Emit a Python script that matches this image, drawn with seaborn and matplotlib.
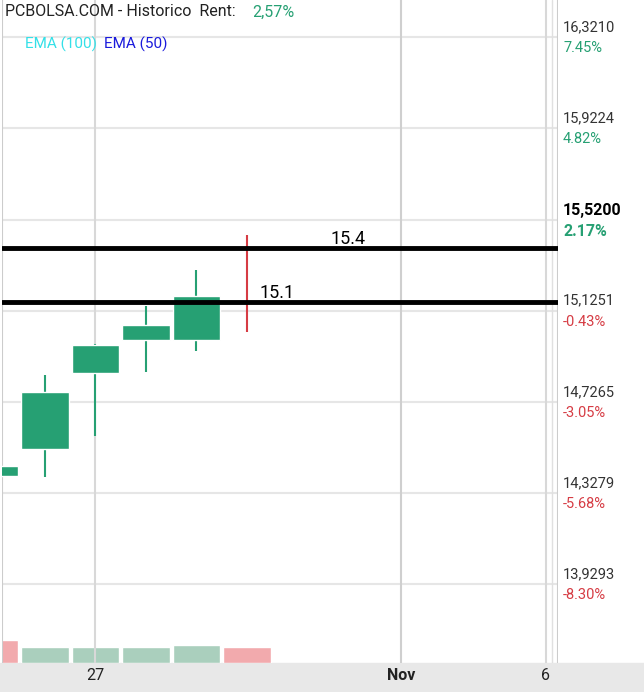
import matplotlib
matplotlib.use("Agg")
import matplotlib.pyplot as plt
import seaborn as sns
import numpy as np

sns.set_theme(style="white")
plt.rcParams['font.family'] = ['Roboto', 'DejaVu Sans']

idx = [0, 1, 2, 3, 4, 5]
opens = [14.402, 14.520, 14.853, 14.997, 14.997, 15.10]
closes = [14.446, 14.770, 14.975, 15.062, 15.189, 15.10]
highs = [14.446, 14.844, 14.979, 15.145, 15.303, 15.456]
lows = [14.402, 14.398, 14.577, 14.857, 14.949, 15.032]
volumes = [23, 16, 16, 16, 18, 16]
vol_up = [False, True, True, True, True, False]
levels = [15.399, 15.163]
level_labels = ["15.4", "15.1"]
grid_prices = [16.3210, 15.9224, 15.5200, 15.1251, 14.7265, 14.3279, 13.9293]
grid_pcts = ["7.45%", "4.82%", "2.17%", "-0.43%", "-3.05%", "-5.68%", "-8.30%"]
xtick_pos = [2, 8.05, 10.92]
xtick_labels = ["27", "Nov", "6"]

GREEN = "#26a073"
RED = "#d63c44"

fig = plt.figure(figsize=(6.44, 6.92), dpi=100)
fig.patch.set_facecolor("white")
# bottom band
fig.add_artist(plt.Rectangle((0, 0), 1, 29/692, transform=fig.transFigure, color="#e8e8e8", zorder=0))
ax = fig.add_axes([2/644, 29/692, 556/644, 663/692])
ax.set_xlim(0.149, 11.16)
ax.set_ylim(13.585, 16.483)
ax.set_facecolor("white")
for s in ax.spines.values():
    s.set_visible(False)
ax.axvline(0.149, color="#cccccc", lw=1.5)
ax.axvline(11.16, color="#cccccc", lw=1.5)
ax.axvline(11.04, color="#e0e0e0", lw=1)
for p in grid_prices:
    ax.axhline(p, color="#e6e6e6", lw=1.5, zorder=0)
for xp in xtick_pos:
    ax.axvline(xp, color="#d8d8d8" if xp != 8.05 else "#cfcfcf", lw=1.5, zorder=0)
ax.set_xticks([]); ax.set_yticks([])

# volume
axv = ax.twinx()
axv.set_ylim(0, 663)
axv.set_yticks([])
for s in axv.spines.values():
    s.set_visible(False)
vcols = ["#aacfbd" if u else "#f2aaad" for u in vol_up]
axv.bar(idx, volumes, width=0.94, color=vcols, zorder=1)

w = 0.94
for i, o, c, h, l in zip(idx, opens, closes, highs, lows):
    col = GREEN if c > o else RED
    ax.vlines(i, l, h, color=col, lw=1.5, zorder=3)
    if c != o:
        ax.bar(i, abs(c - o), bottom=min(o, c), width=w, color=col, zorder=3)
ax.set_zorder(axv.get_zorder() + 1)
ax.patch.set_visible(False)

for lv in levels:
    ax.axhline(lv, color="black", lw=3.5, zorder=4)
ax.text(7.0, levels[0], level_labels[0], fontsize=13, ha="center", va="bottom", color="black", zorder=5)
ax.text(5.6, levels[1], level_labels[1], fontsize=13, ha="center", va="bottom", color="black", zorder=5)

# right labels
for i, (p, pc) in enumerate(zip(grid_prices, grid_pcts)):
    y = (p - 13.585) / (16.483 - 13.585)
    yf = (29 + y * 663) / 692
    cur = i == 2
    fig.text(563/644, yf + 10/692, f"{p:.4f}".replace(".", ","), fontsize=11.5 if cur else 10.5,
             color="black" if cur else "#333333", fontweight="bold" if cur else "normal", va="center")
    pcol = GREEN if not pc.startswith("-") else RED
    fig.text(563/644, yf - 11/692, pc, fontsize=11.5 if cur else 10.5, color=pcol,
             fontweight="bold" if cur else "normal", va="center")

for xp, lab in zip(xtick_pos, xtick_labels):
    xf = (2 + (xp - 0.149) / (11.16 - 0.149) * 556) / 644
    fig.text(xf, 17/692, lab, ha="center", va="center", fontsize=11.5,
             color="#222222", fontweight="bold" if lab == "Nov" else "normal")

fig.text(5/644, 1 - 12/692, "PCBOLSA.COM - Historico  Rent:", fontsize=11.5, color="#222222", va="center")
fig.text(252/644, 1 - 12/692, "2,57%", fontsize=11.5, color=GREEN, va="center")
fig.text(25/644, 1 - 44/692, "EMA (100)", fontsize=11, color="#33e0e8", va="center")
fig.text(104/644, 1 - 44/692, "EMA (50)", fontsize=11, color="#1a1adc", va="center")

fig.savefig("out.png", dpi=100)
